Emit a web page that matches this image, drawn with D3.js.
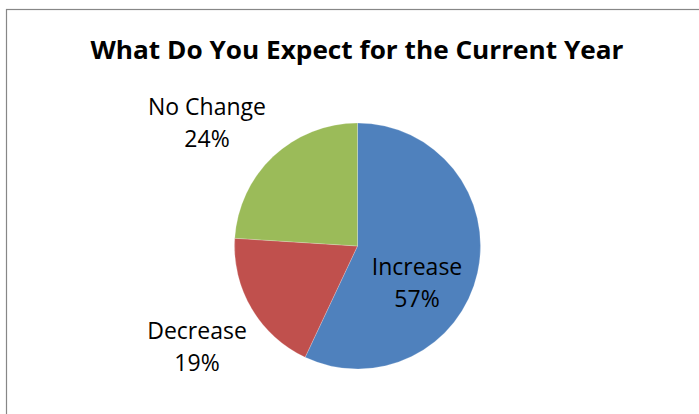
<!DOCTYPE html>
<html>
<head>
<meta charset="utf-8">
<script src="https://cdn.jsdelivr.net/npm/d3@7"></script>
<style>
  html, body { margin: 0; padding: 0; background: #fff; }
  svg { display: block; }
</style>
</head>
<body>
<svg id="chart" width="699" height="414"></svg>
<script>
// Survey answers and their shares (percent)
const categories = ["Increase", "Decrease", "No Change"];
const shares = [57, 19, 24];
const chartTitle = "What Do You Expect for the Current Year";

const colors = ["#4F81BD", "#C0504D", "#9BBB59"];

const W = 699, H = 414;
const svg = d3.select("#chart");

// Chart area frame (runs past the right and bottom edges)
svg.append("rect")
  .attr("x", 6.5).attr("y", 9.5)
  .attr("width", W + 20).attr("height", H + 20)
  .attr("fill", "#fff")
  .attr("stroke", "#878787")
  .attr("stroke-width", 1.2);

// Title, condensed slightly to its target width
svg.append("text")
  .attr("x", 357).attr("y", 59)
  .attr("text-anchor", "middle")
  .attr("font-family", "'Open Sans', sans-serif")
  .attr("font-weight", "bold")
  .attr("font-size", 25.5)
  .attr("textLength", 533)
  .attr("lengthAdjust", "spacingAndGlyphs")
  .attr("fill", "#000")
  .text(chartTitle);

// Pie
const cx = 357.5, cy = 246, r = 123;
const data = categories.map((c, i) => ({ name: c, value: shares[i], color: colors[i] }));
const pie = d3.pie().value(d => d.value).sort(null);
const arc = d3.arc().innerRadius(0).outerRadius(r);

const g = svg.append("g").attr("transform", `translate(${cx},${cy})`);
g.selectAll("path")
  .data(pie(data))
  .join("path")
  .attr("d", arc)
  .attr("fill", d => d.data.color)
  .attr("stroke", "rgba(255,255,255,0.35)")
  .attr("stroke-width", 0.6);

// Data labels: name on one line, percent below
const labelPos = {
  "Increase": [417, 275],
  "Decrease": [197, 339],
  "No Change": [207, 115]
};
const labels = svg.append("g")
  .attr("font-family", "'Open Sans', sans-serif")
  .attr("font-size", 23)
  .attr("fill", "#000")
  .attr("text-anchor", "middle");
data.forEach(d => {
  const [x, y] = labelPos[d.name];
  const t = labels.append("text").attr("x", x).attr("y", y);
  t.append("tspan").attr("x", x).text(d.name);
  t.append("tspan").attr("x", x).attr("dy", 31.5).text(d.value + "%");
});
</script>
</body>
</html>
